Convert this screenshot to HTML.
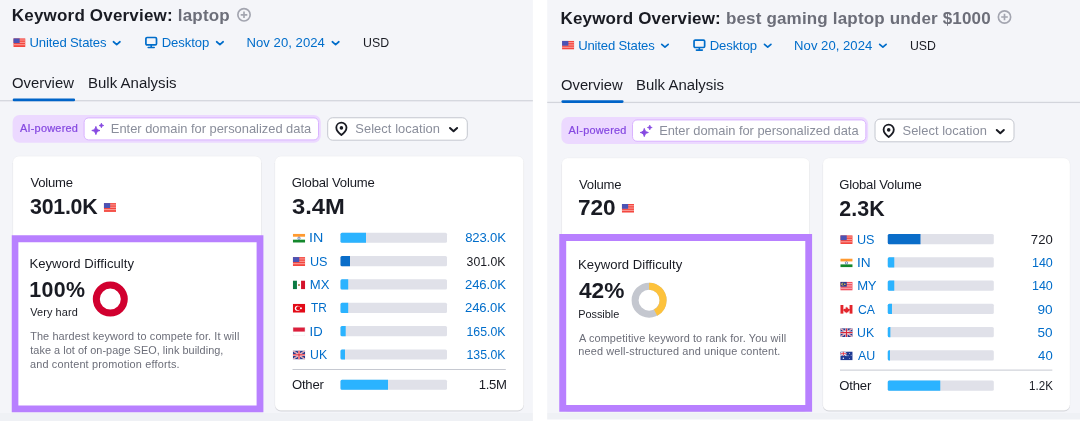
<!DOCTYPE html>
<html lang="en"><head><meta charset="utf-8"><title>Keyword Overview</title>
<style>
*{margin:0;padding:0}
html,body{width:1080px;height:421px;overflow:hidden;background:#fff}
body{position:relative;font-family:"Liberation Sans", sans-serif}
.art{position:absolute;left:0;top:0;display:block}
.t{position:absolute;white-space:nowrap;line-height:1}
#L-ai,#R-ai{-webkit-text-stroke:0.22px #8649e1}
</style></head>
<body>
<svg class="art" width="1080" height="421" viewBox="0 0 1080 421" aria-hidden="true">
<rect x="0.00" y="0.00" width="532.90" height="421.00" fill="#f4f5f9"/>
<rect x="0.00" y="413.00" width="532.90" height="8.00" fill="rgba(25,27,35,0.018)"/>
<g transform="translate(244.00 14.80)" fill="none" stroke="#a3a5b0" stroke-width="1.650"><circle r="6.150"/><path d="M-3.300 0H3.300M0 -3.300V3.300"/></g>
<svg x="13.30" y="38.20" width="12.2" height="8.8" viewBox="0 0 24 18" preserveAspectRatio="none"><rect width="24" height="18" fill="#f4473f"/><rect y="2.6" width="24" height="2.2" fill="#f99c98"/><rect y="7.4" width="24" height="2.2" fill="#f99c98"/><rect y="12.2" width="24" height="2.2" fill="#f99c98"/><rect width="12.5" height="10" fill="#4b53b5"/></svg>
<path d="M113.45 41.75L116.70 44.58L119.95 41.75" fill="none" stroke="#006dca" stroke-width="1.7" stroke-linecap="round" stroke-linejoin="round"/>
<g transform="translate(144.00 35.70)" fill="none" stroke="#006dca"><rect x="1.900" y="1.800" width="10.600" height="7.400" rx="1.200" stroke-width="1.700"/><path d="M7.200 9.500V11.500M4.200 11.800H10.200" stroke-width="1.600" stroke-linecap="round"/></g>
<path d="M216.65 41.75L219.90 44.58L223.15 41.75" fill="none" stroke="#006dca" stroke-width="1.7" stroke-linecap="round" stroke-linejoin="round"/>
<path d="M332.35 41.75L335.60 44.58L338.85 41.75" fill="none" stroke="#006dca" stroke-width="1.7" stroke-linecap="round" stroke-linejoin="round"/>
<rect x="0.00" y="100.10" width="532.90" height="1.25" fill="#d3d5dc"/>
<rect x="12.70" y="98.50" width="62.40" height="2.70" rx="1.3" fill="#0064c8"/>
<rect x="12.60" y="115.00" width="308.20" height="27.70" rx="7" fill="#ecd9ff"/>
<rect x="84.10" y="117.90" width="234.40" height="22.00" rx="4.5" fill="#fff" stroke="#d9b3ff" stroke-width="1"/>
<g transform="translate(90.50 122.00)" fill="#8649e1" stroke="#8649e1" stroke-linejoin="round"><path d="M5.400 4.400C6.100 7.100 6.800 7.800 9.500 8.500C6.800 9.200 6.100 9.900 5.400 12.600C4.700 9.900 4 9.200 1.300 8.500C4 7.800 4.700 7.100 5.400 4.400Z" stroke-width="0.9"/><path d="M10.900 1.100C11.300 2.700 11.700 3.100 13.300 3.500C11.700 3.900 11.300 4.300 10.900 5.900C10.500 4.300 10.100 3.900 8.500 3.500C10.100 3.100 10.500 2.700 10.900 1.100Z" stroke-width="0.7"/></g>
<rect x="327.70" y="117.75" width="139.60" height="22.45" rx="5" fill="#fff" stroke="#c4c7cf" stroke-width="1"/>
<g transform="translate(334.40 120.70)"><path d="M7 1.900C4.200 1.900 1.900 4.100 1.900 6.900C1.900 10.300 5.600 13.300 7 14.300C8.400 13.300 12.100 10.300 12.100 6.900C12.100 4.100 9.800 1.900 7 1.900Z" fill="none" stroke="#191b23" stroke-width="1.800" stroke-linejoin="round"/><circle cx="7" cy="7.200" r="1.800" fill="#191b23"/></g>
<path d="M450.00 128.00L453.55 131.30L457.10 128.00" fill="none" stroke="#191b23" stroke-width="2.0" stroke-linecap="round" stroke-linejoin="round"/>
<rect x="12.80" y="157.20" width="248.60" height="254.30" rx="6" fill="rgba(25,27,35,0.13)"/>
<rect x="12.80" y="156.20" width="248.60" height="254.30" rx="6" fill="#fff" stroke="rgba(25,27,35,0.05)" stroke-width="0.6"/>
<rect x="274.90" y="157.20" width="248.80" height="254.30" rx="6" fill="rgba(25,27,35,0.13)"/>
<rect x="274.90" y="156.20" width="248.80" height="254.30" rx="6" fill="#fff" stroke="rgba(25,27,35,0.05)" stroke-width="0.6"/>
<svg x="103.80" y="203.10" width="12.2" height="8.8" viewBox="0 0 24 18" preserveAspectRatio="none"><rect width="24" height="18" fill="#f4473f"/><rect y="2.6" width="24" height="2.2" fill="#f99c98"/><rect y="7.4" width="24" height="2.2" fill="#f99c98"/><rect y="12.2" width="24" height="2.2" fill="#f99c98"/><rect width="12.5" height="10" fill="#4b53b5"/></svg>
<g transform="translate(110.30 299.05)"><circle r="14.0" fill="none" stroke="#d1002f" stroke-width="7.0"/></g>
<svg x="292.80" y="233.75" width="12.4" height="8.9" viewBox="0 0 24 18" preserveAspectRatio="none"><rect width="24" height="18" fill="#fff"/><rect width="24" height="6" fill="#ff9a30"/><rect y="12" width="24" height="6" fill="#14882c"/><circle cx="12" cy="9" r="2.3" fill="none" stroke="#1c3f94" stroke-width="1.1"/></svg>
<rect x="340.50" y="232.65" width="106.50" height="10.20" rx="1.5" fill="#e0e1e9"/>
<path d="M342.00 232.65H366.00V242.85H342.00a1.5 1.5 0 0 1 -1.5 -1.5V234.15a1.5 1.5 0 0 1 1.5 -1.5Z" fill="#2bb3ff"/>
<svg x="292.80" y="257.10" width="12.4" height="8.9" viewBox="0 0 24 18" preserveAspectRatio="none"><rect width="24" height="18" fill="#f4473f"/><rect y="2.6" width="24" height="2.2" fill="#f99c98"/><rect y="7.4" width="24" height="2.2" fill="#f99c98"/><rect y="12.2" width="24" height="2.2" fill="#f99c98"/><rect width="12.5" height="10" fill="#4b53b5"/></svg>
<rect x="340.50" y="256.00" width="106.50" height="10.20" rx="1.5" fill="#e0e1e9"/>
<path d="M342.00 256.00H350.00V266.20H342.00a1.5 1.5 0 0 1 -1.5 -1.5V257.50a1.5 1.5 0 0 1 1.5 -1.5Z" fill="#0a6dc9"/>
<svg x="292.80" y="280.45" width="12.4" height="8.9" viewBox="0 0 24 18" preserveAspectRatio="none"><rect width="24" height="18" fill="#fff"/><rect width="8" height="18" fill="#0b7a43"/><rect x="16" width="8" height="18" fill="#d4122a"/><circle cx="12" cy="9" r="2" fill="#a0763b"/></svg>
<rect x="340.50" y="279.35" width="106.50" height="10.20" rx="1.5" fill="#e0e1e9"/>
<path d="M342.00 279.35H348.20V289.55H342.00a1.5 1.5 0 0 1 -1.5 -1.5V280.85a1.5 1.5 0 0 1 1.5 -1.5Z" fill="#2bb3ff"/>
<svg x="292.80" y="303.80" width="12.4" height="8.9" viewBox="0 0 24 18" preserveAspectRatio="none"><rect width="24" height="18" fill="#e30a17"/><circle cx="9.200" cy="9" r="5.200" fill="#fff"/><circle cx="10.700" cy="9" r="4.100" fill="#e30a17"/><circle cx="15.800" cy="9" r="1.900" fill="#fff"/></svg>
<rect x="340.50" y="302.70" width="106.50" height="10.20" rx="1.5" fill="#e0e1e9"/>
<path d="M342.00 302.70H348.20V312.90H342.00a1.5 1.5 0 0 1 -1.5 -1.5V304.20a1.5 1.5 0 0 1 1.5 -1.5Z" fill="#2bb3ff"/>
<svg x="292.80" y="327.15" width="12.4" height="8.9" viewBox="0 0 24 18" preserveAspectRatio="none"><rect width="24" height="18" fill="#fff"/><rect width="24" height="9" fill="#dc1f3c"/><rect x="0.4" y="0.4" width="23.2" height="17.2" fill="none" stroke="#e6e6e6" stroke-width="0.8"/></svg>
<rect x="340.50" y="326.05" width="106.50" height="10.20" rx="1.5" fill="#e0e1e9"/>
<path d="M342.00 326.05H345.70V336.25H342.00a1.5 1.5 0 0 1 -1.5 -1.5V327.55a1.5 1.5 0 0 1 1.5 -1.5Z" fill="#2bb3ff"/>
<svg x="292.80" y="350.50" width="12.4" height="8.9" viewBox="0 0 24 18" preserveAspectRatio="none"><rect width="24" height="18" fill="#2b3a8c"/><path d="M0 0L24 18M24 0L0 18" stroke="#fff" stroke-width="2.600"/><path d="M0 0L24 18M24 0L0 18" stroke="#d8283a" stroke-width="1"/><path d="M12 0V18M0 9H24" stroke="#fff" stroke-width="4.200"/><path d="M12 0V18M0 9H24" stroke="#d8283a" stroke-width="2.400"/></svg>
<rect x="340.50" y="349.40" width="106.50" height="10.20" rx="1.5" fill="#e0e1e9"/>
<path d="M342.00 349.40H345.00V359.60H342.00a1.5 1.5 0 0 1 -1.5 -1.5V350.90a1.5 1.5 0 0 1 1.5 -1.5Z" fill="#2bb3ff"/>
<rect x="292.50" y="369.00" width="213.30" height="1.00" fill="#c6c9d1"/>
<rect x="340.50" y="379.65" width="106.50" height="10.20" rx="1.5" fill="#e0e1e9"/>
<path d="M342.00 379.65H388.00V389.85H342.00a1.5 1.5 0 0 1 -1.5 -1.5V381.15a1.5 1.5 0 0 1 1.5 -1.5Z" fill="#2bb3ff"/>
<path fill-rule="evenodd" fill="#b880ff" d="M11.76 235.30H263.40V412.20H11.76ZM18.36 242.30V405.50H256.60V242.30Z"/>
<rect x="547.20" y="0.00" width="532.80" height="419.50" fill="#f4f5f9"/>
<rect x="547.20" y="413.00" width="532.80" height="6.50" fill="rgba(25,27,35,0.018)"/>
<g transform="translate(1004.50 17.00)" fill="none" stroke="#a3a5b0" stroke-width="1.650"><circle r="6.150"/><path d="M-3.300 0H3.300M0 -3.300V3.300"/></g>
<svg x="562.04" y="40.79" width="12.2" height="8.8" viewBox="0 0 24 18" preserveAspectRatio="none"><rect width="24" height="18" fill="#f4473f"/><rect y="2.6" width="24" height="2.2" fill="#f99c98"/><rect y="7.4" width="24" height="2.2" fill="#f99c98"/><rect y="12.2" width="24" height="2.2" fill="#f99c98"/><rect width="12.5" height="10" fill="#4b53b5"/></svg>
<path d="M661.74 44.32L664.97 47.12L668.21 44.32" fill="none" stroke="#006dca" stroke-width="1.7" stroke-linecap="round" stroke-linejoin="round"/>
<g transform="translate(692.15 38.30)" fill="none" stroke="#006dca"><rect x="1.900" y="1.800" width="10.600" height="7.400" rx="1.200" stroke-width="1.700"/><path d="M7.200 9.500V11.500M4.200 11.800H10.200" stroke-width="1.600" stroke-linecap="round"/></g>
<path d="M764.48 44.32L767.71 47.12L770.94 44.32" fill="none" stroke="#006dca" stroke-width="1.7" stroke-linecap="round" stroke-linejoin="round"/>
<path d="M879.66 44.32L882.89 47.12L886.12 44.32" fill="none" stroke="#006dca" stroke-width="1.7" stroke-linecap="round" stroke-linejoin="round"/>
<rect x="547.20" y="101.80" width="532.80" height="1.25" fill="#d3d5dc"/>
<rect x="561.44" y="100.20" width="62.12" height="2.70" rx="1.3" fill="#0064c8"/>
<rect x="561.34" y="117.06" width="306.81" height="27.00" rx="7" fill="#ecd9ff"/>
<rect x="632.52" y="119.94" width="233.35" height="21.30" rx="4.5" fill="#fff" stroke="#d9b3ff" stroke-width="1"/>
<g transform="translate(638.89 124.01)" fill="#8649e1" stroke="#8649e1" stroke-linejoin="round"><path d="M5.400 4.400C6.100 7.100 6.800 7.800 9.500 8.500C6.800 9.200 6.100 9.900 5.400 12.600C4.700 9.900 4 9.200 1.300 8.500C4 7.800 4.700 7.100 5.400 4.400Z" stroke-width="0.9"/><path d="M10.900 1.100C11.300 2.700 11.700 3.100 13.300 3.500C11.700 3.900 11.300 4.300 10.900 5.900C10.500 4.300 10.100 3.900 8.500 3.500C10.100 3.100 10.500 2.700 10.900 1.100Z" stroke-width="0.7"/></g>
<rect x="875.03" y="119.10" width="138.97" height="22.70" rx="5" fill="#fff" stroke="#c4c7cf" stroke-width="1"/>
<g transform="translate(881.70 122.72)"><path d="M7 1.900C4.200 1.900 1.900 4.100 1.900 6.900C1.900 10.300 5.600 13.300 7 14.300C8.400 13.300 12.100 10.300 12.100 6.900C12.100 4.100 9.800 1.900 7 1.900Z" fill="none" stroke="#191b23" stroke-width="1.800" stroke-linejoin="round"/><circle cx="7" cy="7.200" r="1.800" fill="#191b23"/></g>
<path d="M996.78 129.97L1000.31 133.24L1003.84 129.97" fill="none" stroke="#191b23" stroke-width="2.0" stroke-linecap="round" stroke-linejoin="round"/>
<rect x="561.75" y="159.00" width="247.85" height="252.50" rx="6" fill="rgba(25,27,35,0.13)"/>
<rect x="561.75" y="158.00" width="247.85" height="252.50" rx="6" fill="#fff" stroke="rgba(25,27,35,0.05)" stroke-width="0.6"/>
<rect x="822.80" y="159.00" width="247.20" height="252.50" rx="6" fill="rgba(25,27,35,0.13)"/>
<rect x="822.80" y="158.00" width="247.20" height="252.50" rx="6" fill="#fff" stroke="rgba(25,27,35,0.05)" stroke-width="0.6"/>
<svg x="621.80" y="203.90" width="12.2" height="8.8" viewBox="0 0 24 18" preserveAspectRatio="none"><rect width="24" height="18" fill="#f4473f"/><rect y="2.6" width="24" height="2.2" fill="#f99c98"/><rect y="7.4" width="24" height="2.2" fill="#f99c98"/><rect y="12.2" width="24" height="2.2" fill="#f99c98"/><rect width="12.5" height="10" fill="#4b53b5"/></svg>
<g transform="translate(649.10 300.20)"><circle r="14.0" fill="none" stroke="#c4c7cf" stroke-width="7.0"/><circle r="14.0" fill="none" stroke="#fdc23c" stroke-width="7.0" stroke-dasharray="36.95 87.96" transform="rotate(-90)"/></g>
<svg x="840.28" y="235.20" width="12.4" height="8.9" viewBox="0 0 24 18" preserveAspectRatio="none"><rect width="24" height="18" fill="#f4473f"/><rect y="2.6" width="24" height="2.2" fill="#f99c98"/><rect y="7.4" width="24" height="2.2" fill="#f99c98"/><rect y="12.2" width="24" height="2.2" fill="#f99c98"/><rect width="12.5" height="10" fill="#4b53b5"/></svg>
<rect x="887.77" y="234.10" width="106.02" height="10.20" rx="1.5" fill="#e0e1e9"/>
<path d="M889.27 234.10H920.47V244.30H889.27a1.5 1.5 0 0 1 -1.5 -1.5V235.60a1.5 1.5 0 0 1 1.5 -1.5Z" fill="#0a6dc9"/>
<svg x="840.28" y="258.45" width="12.4" height="8.9" viewBox="0 0 24 18" preserveAspectRatio="none"><rect width="24" height="18" fill="#fff"/><rect width="24" height="6" fill="#ff9a30"/><rect y="12" width="24" height="6" fill="#14882c"/><circle cx="12" cy="9" r="2.3" fill="none" stroke="#1c3f94" stroke-width="1.1"/></svg>
<rect x="887.77" y="257.35" width="106.02" height="10.20" rx="1.5" fill="#e0e1e9"/>
<path d="M889.27 257.35H894.27V267.55H889.27a1.5 1.5 0 0 1 -1.5 -1.5V258.85a1.5 1.5 0 0 1 1.5 -1.5Z" fill="#2bb3ff"/>
<svg x="840.28" y="281.70" width="12.4" height="8.9" viewBox="0 0 24 18" preserveAspectRatio="none"><rect width="24" height="18" fill="#f0515f"/><rect y="2.6" width="24" height="2.2" fill="#f8aab2"/><rect y="7.4" width="24" height="2.2" fill="#f8aab2"/><rect y="12.2" width="24" height="2.2" fill="#f8aab2"/><rect width="12.5" height="10" fill="#2a3a8f"/><circle cx="5" cy="5" r="2.8" fill="#f7d33c"/><circle cx="6.2" cy="5" r="2.2" fill="#2a3a8f"/><circle cx="8.8" cy="5" r="1.5" fill="#f7d33c"/></svg>
<rect x="887.77" y="280.60" width="106.02" height="10.20" rx="1.5" fill="#e0e1e9"/>
<path d="M889.27 280.60H894.27V290.80H889.27a1.5 1.5 0 0 1 -1.5 -1.5V282.10a1.5 1.5 0 0 1 1.5 -1.5Z" fill="#2bb3ff"/>
<svg x="840.28" y="304.95" width="12.4" height="8.9" viewBox="0 0 24 18" preserveAspectRatio="none"><rect width="24" height="18" fill="#fff"/><rect width="6" height="18" fill="#e3242b"/><rect x="18" width="6" height="18" fill="#e3242b"/><path d="M12 3.2l1.4 2.6 1.6-.6-.6 3.4 1.8-1.4.4 1.2 2-.2-1.2 2.6.8.6-3.2 2.4.4 1.2-2.8-.4V16.5h-1.2V14.6l-2.8.4.4-1.2-3.200-2.4.8-.6L6.400 8.200l2 .2.4-1.2 1.800 1.400-.6-3.400 1.600.6z" fill="#e3242b" transform="translate(12 9.500) scale(1.05 1.02) translate(-12 -9.500)"/></svg>
<rect x="887.77" y="303.85" width="106.02" height="10.20" rx="1.5" fill="#e0e1e9"/>
<path d="M889.27 303.85H891.97V314.05H889.27a1.5 1.5 0 0 1 -1.5 -1.5V305.35a1.5 1.5 0 0 1 1.5 -1.5Z" fill="#2bb3ff"/>
<svg x="840.28" y="328.20" width="12.4" height="8.9" viewBox="0 0 24 18" preserveAspectRatio="none"><rect width="24" height="18" fill="#2b3a8c"/><path d="M0 0L24 18M24 0L0 18" stroke="#fff" stroke-width="2.600"/><path d="M0 0L24 18M24 0L0 18" stroke="#d8283a" stroke-width="1"/><path d="M12 0V18M0 9H24" stroke="#fff" stroke-width="4.200"/><path d="M12 0V18M0 9H24" stroke="#d8283a" stroke-width="2.400"/></svg>
<rect x="887.77" y="327.10" width="106.02" height="10.20" rx="1.5" fill="#e0e1e9"/>
<path d="M889.27 327.10H890.37V337.30H889.27a1.5 1.5 0 0 1 -1.5 -1.5V328.60a1.5 1.5 0 0 1 1.5 -1.5Z" fill="#2bb3ff"/>
<svg x="840.28" y="351.45" width="12.4" height="8.9" viewBox="0 0 24 18" preserveAspectRatio="none"><rect width="24" height="18" fill="#1f3a93"/><path d="M0 0L12 9M12 0L0 9" stroke="#fff" stroke-width="2"/><path d="M6 0V9M0 4.5H12" stroke="#fff" stroke-width="3"/><path d="M6 0V9M0 4.5H12" stroke="#e0263a" stroke-width="1.6"/><circle cx="6" cy="13.6" r="1.5" fill="#fff"/><circle cx="18" cy="4" r="1" fill="#fff"/><circle cx="18" cy="14.5" r="1" fill="#fff"/><circle cx="15" cy="8.500" r="1" fill="#fff"/><circle cx="21" cy="7.500" r="1" fill="#fff"/></svg>
<rect x="887.77" y="350.35" width="106.02" height="10.20" rx="1.5" fill="#e0e1e9"/>
<path d="M889.27 350.35H889.97V360.55H889.27a1.5 1.5 0 0 1 -1.5 -1.5V351.85a1.5 1.5 0 0 1 1.5 -1.5Z" fill="#2bb3ff"/>
<rect x="839.98" y="369.60" width="212.34" height="1.00" fill="#c6c9d1"/>
<rect x="887.77" y="380.50" width="106.02" height="10.20" rx="1.5" fill="#e0e1e9"/>
<path d="M889.27 380.50H940.27V390.70H889.27a1.5 1.5 0 0 1 -1.5 -1.5V382.00a1.5 1.5 0 0 1 1.5 -1.5Z" fill="#2bb3ff"/>
<path fill-rule="evenodd" fill="#b880ff" d="M559.25 234.10H812.10V411.70H559.25ZM566.20 241.00V405.00H805.30V241.00Z"/>
</svg>
<section aria-label="Keyword Overview: laptop">
<span class="t" id="L-title" style="left:11.86px;top:7.00px;font-size:17px;color:#191b23;font-weight:700;letter-spacing:0.187px;">Keyword Overview:</span>
<span class="t" id="L-kw" style="left:177.81px;top:7.00px;font-size:17px;color:#6c6e79;font-weight:700;letter-spacing:0.177px;">laptop</span>
<span class="t" id="L-us" style="left:29.49px;top:36.00px;font-size:13.1px;color:#006dca;letter-spacing:-0.135px;">United States</span>
<span class="t" id="L-desk" style="left:161.63px;top:36.00px;font-size:13.1px;color:#006dca;letter-spacing:-0.070px;">Desktop</span>
<span class="t" id="L-date" style="left:246.43px;top:36.00px;font-size:13.1px;color:#006dca;letter-spacing:0.050px;">Nov 20, 2024</span>
<span class="t" id="L-usd" style="left:362.75px;top:36.00px;font-size:13.1px;color:#191b23;transform:scaleX(0.9416);transform-origin:0 50%;">USD</span>
<span class="t" id="L-tab1" style="left:12.30px;top:76.00px;font-size:14px;color:#191b23;transform:scaleX(1.0601);transform-origin:0 50%;">Overview</span>
<span class="t" id="L-tab2" style="left:87.77px;top:76.00px;font-size:14px;color:#191b23;transform:scaleX(1.0726);transform-origin:0 50%;">Bulk Analysis</span>
<span class="t" id="L-ai" style="left:19.88px;top:123.00px;font-size:10.9px;color:#8649e1;letter-spacing:0.258px;">AI-powered</span>
<span class="t" id="L-ph" style="left:110.84px;top:123.00px;font-size:12.9px;color:#8a8e9b;letter-spacing:-0.009px;">Enter domain for personalized data</span>
<span class="t" id="L-sel" style="left:355.31px;top:123.00px;font-size:12.9px;color:#8a8e9b;letter-spacing:0.063px;">Select location</span>
<span class="t" id="L-vol" style="left:30.44px;top:176.00px;font-size:13.1px;color:#191b23;letter-spacing:-0.210px;">Volume</span>
<span class="t" id="L-volv" style="left:30.01px;top:197.00px;font-size:21.4px;color:#191b23;font-weight:700;letter-spacing:-0.259px;">301.0K</span>
<span class="t" id="L-kd" style="left:29.43px;top:257.00px;font-size:13.1px;color:#191b23;letter-spacing:0.045px;">Keyword Difficulty</span>
<span class="t" id="L-kdv" style="left:29.15px;top:280.00px;font-size:21.4px;color:#191b23;font-weight:700;letter-spacing:0.398px;">100%</span>
<span class="t" id="L-kdl" style="left:30.35px;top:307.00px;font-size:10.9px;color:#191b23;letter-spacing:0.091px;">Very hard</span>
<span class="t" id="L-d0" style="left:30.16px;top:331.00px;font-size:10.9px;color:#6c6e79;letter-spacing:0.123px;">The hardest keyword to compete for. It will</span>
<span class="t" id="L-d1" style="left:30.24px;top:345.00px;font-size:10.9px;color:#6c6e79;letter-spacing:0.046px;">take a lot of on-page SEO, link building,</span>
<span class="t" id="L-d2" style="left:29.94px;top:359.00px;font-size:10.9px;color:#6c6e79;letter-spacing:0.178px;">and content promotion efforts.</span>
<span class="t" id="L-gv" style="left:291.84px;top:176.00px;font-size:13.1px;color:#191b23;letter-spacing:-0.186px;">Global Volume</span>
<span class="t" id="L-gvv" style="left:291.95px;top:197.00px;font-size:21.4px;color:#191b23;font-weight:700;transform:scaleX(1.1109);transform-origin:0 50%;">3.4M</span>
<span class="t" id="L-c0" style="left:309.48px;top:231.00px;font-size:13.1px;color:#006dca;transform:scaleX(1.0909);transform-origin:0 50%;">IN</span>
<span class="t" id="L-v0" style="right:574.19px;top:231.00px;font-size:13.1px;color:#006dca;letter-spacing:-0.137px;">823.0K</span>
<span class="t" id="L-c1" style="left:309.83px;top:255.00px;font-size:13.1px;color:#006dca;transform:scaleX(0.9644);transform-origin:0 50%;">US</span>
<span class="t" id="L-v1" style="right:574.06px;top:255.00px;font-size:13.1px;color:#191b23;transform:scaleX(0.9375);transform-origin:100% 50%;">301.0K</span>
<span class="t" id="L-c2" style="left:309.73px;top:278.00px;font-size:13.1px;color:#006dca;letter-spacing:0.209px;">MX</span>
<span class="t" id="L-v2" style="right:574.17px;top:278.00px;font-size:13.1px;color:#006dca;letter-spacing:-0.119px;">246.0K</span>
<span class="t" id="L-c3" style="left:310.53px;top:301.00px;font-size:13.1px;color:#006dca;transform:scaleX(0.9054);transform-origin:0 50%;">TR</span>
<span class="t" id="L-v3" style="right:574.17px;top:301.00px;font-size:13.1px;color:#006dca;letter-spacing:-0.119px;">246.0K</span>
<span class="t" id="L-c4" style="left:309.59px;top:325.00px;font-size:13.1px;color:#006dca;letter-spacing:0.042px;">ID</span>
<span class="t" id="L-v4" style="right:574.06px;top:325.00px;font-size:13.1px;color:#006dca;transform:scaleX(0.9416);transform-origin:100% 50%;">165.0K</span>
<span class="t" id="L-c5" style="left:309.85px;top:348.00px;font-size:13.1px;color:#006dca;transform:scaleX(0.9387);transform-origin:0 50%;">UK</span>
<span class="t" id="L-v5" style="right:574.06px;top:348.00px;font-size:13.1px;color:#006dca;transform:scaleX(0.9416);transform-origin:100% 50%;">135.0K</span>
<span class="t" id="L-oth" style="left:291.88px;top:378.00px;font-size:13.1px;color:#191b23;letter-spacing:-0.178px;">Other</span>
<span class="t" id="L-othv" style="right:573.47px;top:378.00px;font-size:13.1px;color:#191b23;letter-spacing:-0.346px;">1.5M</span>
</section>
<section aria-label="Keyword Overview: best gaming laptop under $1000">
<span class="t" id="R-title" style="left:560.60px;top:10.00px;font-size:17px;color:#191b23;font-weight:700;letter-spacing:0.143px;">Keyword Overview:</span>
<span class="t" id="R-kw" style="left:725.88px;top:10.00px;font-size:17px;color:#6c6e79;font-weight:700;letter-spacing:0.174px;">best gaming laptop under $1000</span>
<span class="t" id="R-us" style="left:578.15px;top:39.00px;font-size:13.1px;color:#006dca;letter-spacing:-0.164px;">United States</span>
<span class="t" id="R-desk" style="left:709.69px;top:39.00px;font-size:13.1px;color:#006dca;letter-spacing:-0.105px;">Desktop</span>
<span class="t" id="R-date" style="left:794.11px;top:39.00px;font-size:13.1px;color:#006dca;letter-spacing:0.019px;">Nov 20, 2024</span>
<span class="t" id="R-usd" style="left:909.92px;top:39.00px;font-size:13.1px;color:#191b23;transform:scaleX(0.9374);transform-origin:0 50%;">USD</span>
<span class="t" id="R-tab1" style="left:561.04px;top:78.00px;font-size:14px;color:#191b23;transform:scaleX(1.0553);transform-origin:0 50%;">Overview</span>
<span class="t" id="R-tab2" style="left:636.17px;top:78.00px;font-size:14px;color:#191b23;transform:scaleX(1.0678);transform-origin:0 50%;">Bulk Analysis</span>
<span class="t" id="R-ai" style="left:568.59px;top:125.00px;font-size:10.9px;color:#8649e1;letter-spacing:0.229px;">AI-powered</span>
<span class="t" id="R-ph" style="left:659.14px;top:125.00px;font-size:12.9px;color:#8a8e9b;letter-spacing:-0.036px;">Enter domain for personalized data</span>
<span class="t" id="R-sel" style="left:902.51px;top:125.00px;font-size:12.9px;color:#8a8e9b;letter-spacing:0.036px;">Select location</span>
<span class="t" id="R-vol" style="left:579.11px;top:178.00px;font-size:13.1px;color:#191b23;letter-spacing:-0.247px;">Volume</span>
<span class="t" id="R-volv" style="left:578.19px;top:198.00px;font-size:21.4px;color:#191b23;font-weight:700;transform:scaleX(1.0559);transform-origin:0 50%;">720</span>
<span class="t" id="R-kd" style="left:578.09px;top:258.00px;font-size:13.1px;color:#191b23;letter-spacing:0.018px;">Keyword Difficulty</span>
<span class="t" id="R-kdv" style="left:578.82px;top:281.00px;font-size:21.4px;color:#191b23;font-weight:700;transform:scaleX(1.0610);transform-origin:0 50%;">42%</span>
<span class="t" id="R-kdl" style="left:578.17px;top:309.00px;font-size:10.9px;color:#191b23;letter-spacing:0.001px;">Possible</span>
<span class="t" id="R-d0" style="left:579.04px;top:333.00px;font-size:10.9px;color:#6c6e79;letter-spacing:0.116px;">A competitive keyword to rank for. You will</span>
<span class="t" id="R-d1" style="left:578.34px;top:346.00px;font-size:10.9px;color:#6c6e79;letter-spacing:0.135px;">need well-structured and unique content.</span>
<span class="t" id="R-gv" style="left:839.32px;top:178.00px;font-size:13.1px;color:#191b23;letter-spacing:-0.217px;">Global Volume</span>
<span class="t" id="R-gvv" style="left:839.24px;top:199.00px;font-size:21.4px;color:#191b23;font-weight:700;letter-spacing:0.084px;">2.3K</span>
<span class="t" id="R-c0" style="left:857.23px;top:233.00px;font-size:13.1px;color:#006dca;transform:scaleX(0.9644);transform-origin:0 50%;">US</span>
<span class="t" id="R-v0" style="right:27.10px;top:233.00px;font-size:13.1px;color:#191b23;letter-spacing:0.062px;">720</span>
<span class="t" id="R-c1" style="left:856.94px;top:256.00px;font-size:13.1px;color:#006dca;transform:scaleX(1.0447);transform-origin:0 50%;">IN</span>
<span class="t" id="R-v1" style="right:27.19px;top:256.00px;font-size:13.1px;color:#006dca;transform:scaleX(0.9582);transform-origin:100% 50%;">140</span>
<span class="t" id="R-c2" style="left:857.13px;top:279.00px;font-size:13.1px;color:#006dca;letter-spacing:-0.278px;">MY</span>
<span class="t" id="R-v2" style="right:27.19px;top:279.00px;font-size:13.1px;color:#006dca;transform:scaleX(0.9582);transform-origin:100% 50%;">140</span>
<span class="t" id="R-c3" style="left:857.58px;top:303.00px;font-size:13.1px;color:#006dca;transform:scaleX(0.9308);transform-origin:0 50%;">CA</span>
<span class="t" id="R-v3" style="right:27.14px;top:303.00px;font-size:13.1px;color:#006dca;transform:scaleX(1.0407);transform-origin:100% 50%;">90</span>
<span class="t" id="R-c4" style="left:857.25px;top:326.00px;font-size:13.1px;color:#006dca;transform:scaleX(0.9387);transform-origin:0 50%;">UK</span>
<span class="t" id="R-v4" style="right:27.15px;top:326.00px;font-size:13.1px;color:#006dca;transform:scaleX(1.0338);transform-origin:100% 50%;">50</span>
<span class="t" id="R-c5" style="left:858.18px;top:349.00px;font-size:13.1px;color:#006dca;transform:scaleX(0.9495);transform-origin:0 50%;">AU</span>
<span class="t" id="R-v5" style="right:26.93px;top:349.00px;font-size:13.1px;color:#006dca;letter-spacing:0.234px;">40</span>
<span class="t" id="R-oth" style="left:839.36px;top:379.00px;font-size:13.1px;color:#191b23;letter-spacing:-0.213px;">Other</span>
<span class="t" id="R-othv" style="right:27.55px;top:379.00px;font-size:13.1px;color:#191b23;transform:scaleX(0.8840);transform-origin:100% 50%;">1.2K</span>
</section>
</body></html>
